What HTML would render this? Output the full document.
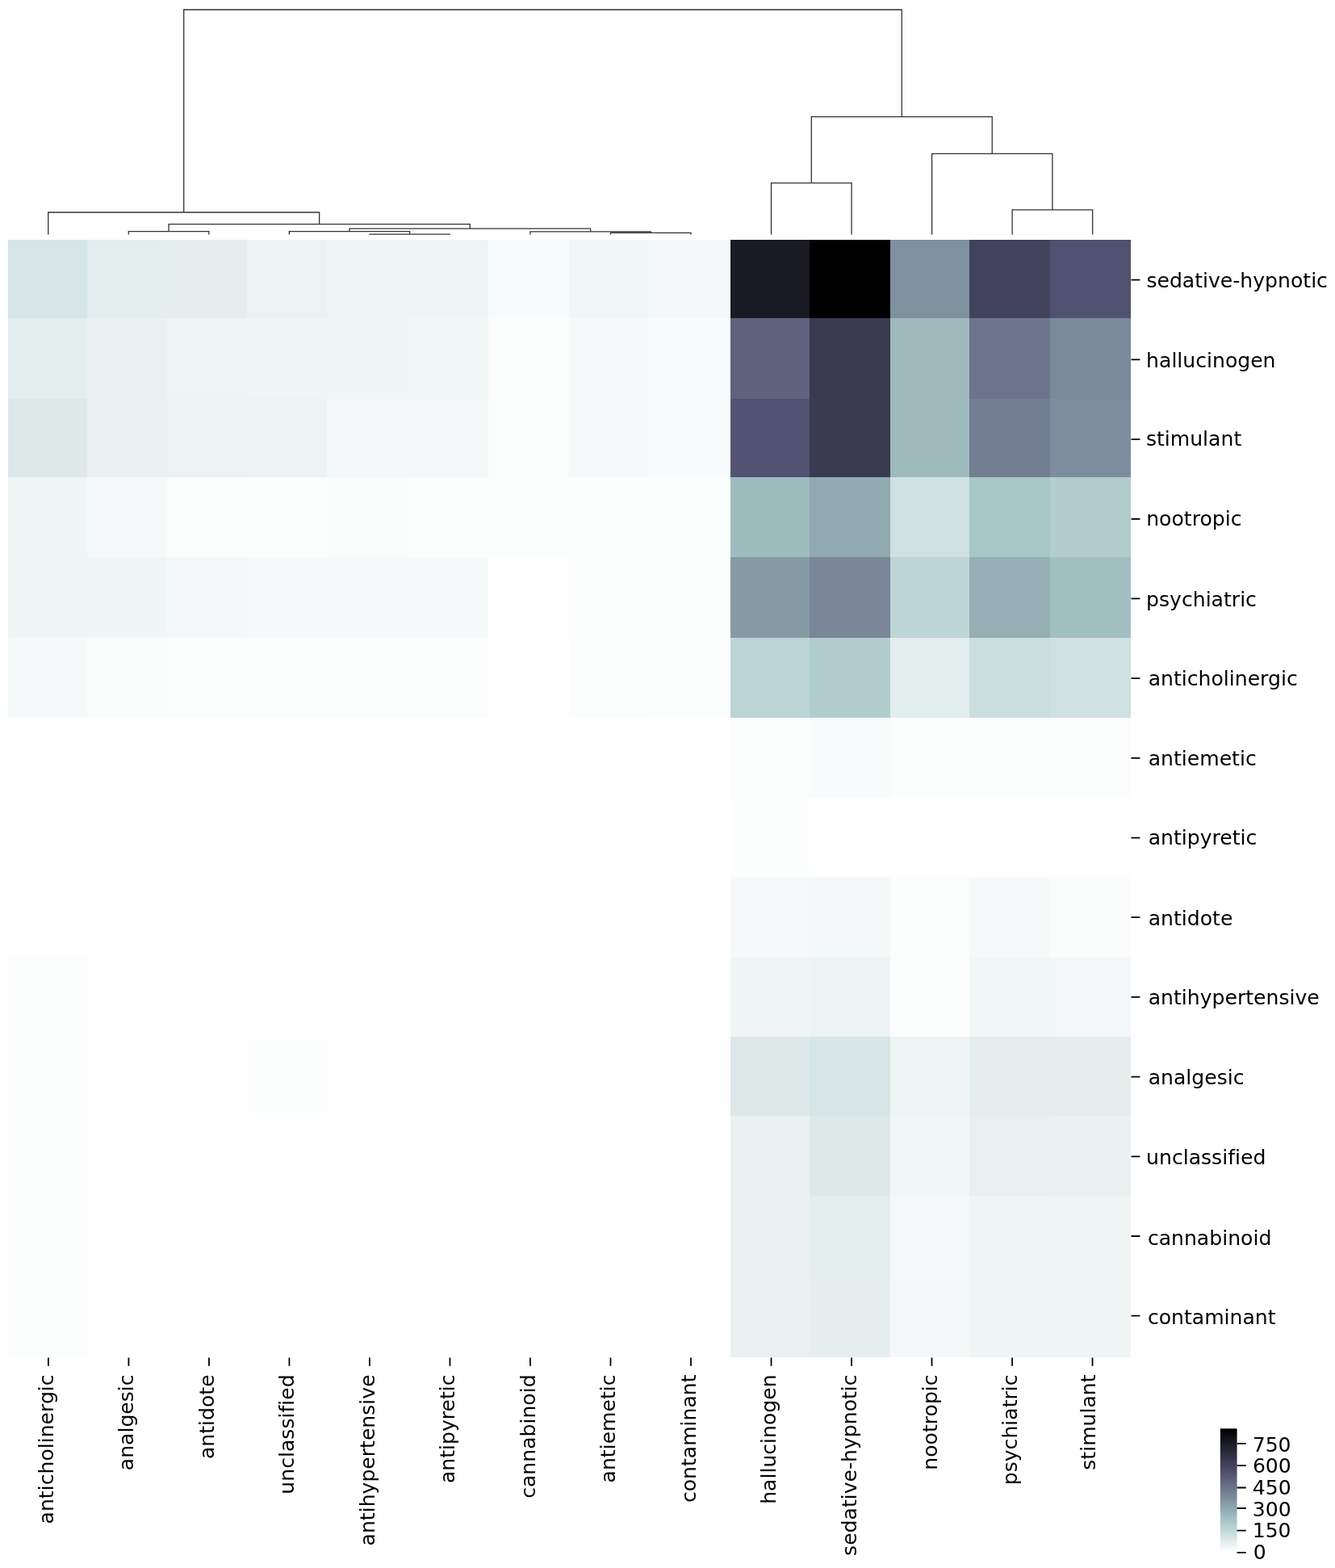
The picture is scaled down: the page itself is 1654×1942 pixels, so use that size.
<!DOCTYPE html>
<html><head><meta charset="utf-8"><title>clustermap</title>
<style>html,body{margin:0;padding:0;background:#fff;}body{width:1654px;height:1942px;overflow:hidden;}svg{display:block;}text{font-family:"DejaVu Sans","Liberation Sans",sans-serif;font-size:25.1px;fill:#000;font-variant-ligatures:none;font-feature-settings:"liga" 0,"clig" 0;}</style></head><body>
<svg width="1654" height="1942" viewBox="0 0 1654 1942">
<rect x="0" y="0" width="1654" height="1942" fill="#fff"/>
<g shape-rendering="crispEdges">
<rect x="10.20" y="297.30" width="98.80" height="97.60" fill="#d6e5e5"/>
<rect x="108.40" y="297.30" width="98.80" height="97.60" fill="#e2eded"/>
<rect x="206.60" y="297.30" width="100.00" height="97.60" fill="#e5eeee"/>
<rect x="306.00" y="297.30" width="99.90" height="97.60" fill="#eaf2f2"/>
<rect x="405.30" y="297.30" width="101.30" height="97.60" fill="#eff5f4"/>
<rect x="506.00" y="297.30" width="99.60" height="97.60" fill="#eff5f4"/>
<rect x="605.00" y="297.30" width="100.10" height="97.60" fill="#f8fbfb"/>
<rect x="704.50" y="297.30" width="100.10" height="97.60" fill="#f1f6f6"/>
<rect x="804.00" y="297.30" width="101.30" height="97.60" fill="#f4f8f8"/>
<rect x="904.70" y="297.30" width="98.60" height="97.60" fill="#1a1a25"/>
<rect x="1002.70" y="297.30" width="100.50" height="97.60" fill="#000000"/>
<rect x="1102.60" y="297.30" width="99.40" height="97.60" fill="#7f909f"/>
<rect x="1201.40" y="297.30" width="100.60" height="97.60" fill="#42425d"/>
<rect x="1301.40" y="297.30" width="99.60" height="97.60" fill="#505070"/>
<rect x="10.20" y="394.30" width="98.80" height="99.80" fill="#e2eded"/>
<rect x="108.40" y="394.30" width="98.80" height="99.80" fill="#e9f1f1"/>
<rect x="206.60" y="394.30" width="100.00" height="99.80" fill="#eff5f4"/>
<rect x="306.00" y="394.30" width="99.90" height="99.80" fill="#f0f5f5"/>
<rect x="405.30" y="394.30" width="101.30" height="99.80" fill="#f0f5f5"/>
<rect x="506.00" y="394.30" width="99.60" height="99.80" fill="#f1f6f6"/>
<rect x="605.00" y="394.30" width="100.10" height="99.80" fill="#fbfcfc"/>
<rect x="704.50" y="394.30" width="100.10" height="99.80" fill="#f5f9f9"/>
<rect x="804.00" y="394.30" width="101.30" height="99.80" fill="#f8fbfb"/>
<rect x="904.70" y="394.30" width="98.60" height="99.80" fill="#5e627d"/>
<rect x="1002.70" y="394.30" width="100.50" height="99.80" fill="#3a3a50"/>
<rect x="1102.60" y="394.30" width="99.40" height="99.80" fill="#9db9bc"/>
<rect x="1201.40" y="394.30" width="100.60" height="99.80" fill="#6b748b"/>
<rect x="1301.40" y="394.30" width="99.60" height="99.80" fill="#7a8a9a"/>
<rect x="10.20" y="493.50" width="98.80" height="98.00" fill="#dde9e9"/>
<rect x="108.40" y="493.50" width="98.80" height="98.00" fill="#e9f1f1"/>
<rect x="206.60" y="493.50" width="100.00" height="98.00" fill="#eaf2f2"/>
<rect x="306.00" y="493.50" width="99.90" height="98.00" fill="#ecf3f3"/>
<rect x="405.30" y="493.50" width="101.30" height="98.00" fill="#f4f8f8"/>
<rect x="506.00" y="493.50" width="99.60" height="98.00" fill="#f4f8f8"/>
<rect x="605.00" y="493.50" width="100.10" height="98.00" fill="#fbfcfc"/>
<rect x="704.50" y="493.50" width="100.10" height="98.00" fill="#f5f9f9"/>
<rect x="804.00" y="493.50" width="101.30" height="98.00" fill="#f8fbfb"/>
<rect x="904.70" y="493.50" width="98.60" height="98.00" fill="#525372"/>
<rect x="1002.70" y="493.50" width="100.50" height="98.00" fill="#3a3a50"/>
<rect x="1102.60" y="493.50" width="99.40" height="98.00" fill="#9db9bc"/>
<rect x="1201.40" y="493.50" width="100.60" height="98.00" fill="#727e92"/>
<rect x="1301.40" y="493.50" width="99.60" height="98.00" fill="#7d8d9d"/>
<rect x="10.20" y="590.90" width="98.80" height="99.70" fill="#f0f5f5"/>
<rect x="108.40" y="590.90" width="98.80" height="99.70" fill="#f5f9f9"/>
<rect x="206.60" y="590.90" width="100.00" height="99.70" fill="#fbfcfc"/>
<rect x="306.00" y="590.90" width="99.90" height="99.70" fill="#fbfcfc"/>
<rect x="405.30" y="590.90" width="101.30" height="99.70" fill="#fafcfb"/>
<rect x="506.00" y="590.90" width="99.60" height="99.70" fill="#fbfcfc"/>
<rect x="605.00" y="590.90" width="100.10" height="99.70" fill="#fbfcfc"/>
<rect x="704.50" y="590.90" width="100.10" height="99.70" fill="#fcfdfd"/>
<rect x="804.00" y="590.90" width="101.30" height="99.70" fill="#fcfdfd"/>
<rect x="904.70" y="590.90" width="98.60" height="99.70" fill="#9ebbbe"/>
<rect x="1002.70" y="590.90" width="100.50" height="99.70" fill="#91a9b1"/>
<rect x="1102.60" y="590.90" width="99.40" height="99.70" fill="#cfe0e0"/>
<rect x="1201.40" y="590.90" width="100.60" height="99.70" fill="#a7c7c7"/>
<rect x="1301.40" y="590.90" width="99.60" height="99.70" fill="#b1cdcd"/>
<rect x="10.20" y="690.00" width="98.80" height="100.60" fill="#eff5f4"/>
<rect x="108.40" y="690.00" width="98.80" height="100.60" fill="#f0f5f5"/>
<rect x="206.60" y="690.00" width="100.00" height="100.60" fill="#f4f8f8"/>
<rect x="306.00" y="690.00" width="99.90" height="100.60" fill="#f5f9f9"/>
<rect x="405.30" y="690.00" width="101.30" height="100.60" fill="#f5f9f9"/>
<rect x="506.00" y="690.00" width="99.60" height="100.60" fill="#f5f9f9"/>
<rect x="605.00" y="690.00" width="100.10" height="100.60" fill="#fefefe"/>
<rect x="704.50" y="690.00" width="100.10" height="100.60" fill="#fbfcfc"/>
<rect x="804.00" y="690.00" width="101.30" height="100.60" fill="#fcfdfd"/>
<rect x="904.70" y="690.00" width="98.60" height="100.60" fill="#869aa6"/>
<rect x="1002.70" y="690.00" width="100.50" height="100.60" fill="#798799"/>
<rect x="1102.60" y="690.00" width="99.40" height="100.60" fill="#bdd5d5"/>
<rect x="1201.40" y="690.00" width="100.60" height="100.60" fill="#96afb5"/>
<rect x="1301.40" y="690.00" width="99.60" height="100.60" fill="#a1bfc1"/>
<rect x="10.20" y="790.00" width="98.80" height="99.10" fill="#f5f9f9"/>
<rect x="108.40" y="790.00" width="98.80" height="99.10" fill="#fafcfb"/>
<rect x="206.60" y="790.00" width="100.00" height="99.10" fill="#fbfcfc"/>
<rect x="306.00" y="790.00" width="99.90" height="99.10" fill="#fbfcfc"/>
<rect x="405.30" y="790.00" width="101.30" height="99.10" fill="#fbfcfc"/>
<rect x="506.00" y="790.00" width="99.60" height="99.10" fill="#fbfcfc"/>
<rect x="605.00" y="790.00" width="100.10" height="99.10" fill="#ffffff"/>
<rect x="704.50" y="790.00" width="100.10" height="99.10" fill="#fbfcfc"/>
<rect x="804.00" y="790.00" width="101.30" height="99.10" fill="#fcfdfd"/>
<rect x="904.70" y="790.00" width="98.60" height="99.10" fill="#bdd5d5"/>
<rect x="1002.70" y="790.00" width="100.50" height="99.10" fill="#b1cdcd"/>
<rect x="1102.60" y="790.00" width="99.40" height="99.10" fill="#e2eded"/>
<rect x="1201.40" y="790.00" width="100.60" height="99.10" fill="#cbdede"/>
<rect x="1301.40" y="790.00" width="99.60" height="99.10" fill="#cfe0e0"/>
<rect x="10.20" y="888.50" width="98.80" height="99.70" fill="#ffffff"/>
<rect x="108.40" y="888.50" width="98.80" height="99.70" fill="#ffffff"/>
<rect x="206.60" y="888.50" width="100.00" height="99.70" fill="#ffffff"/>
<rect x="306.00" y="888.50" width="99.90" height="99.70" fill="#ffffff"/>
<rect x="405.30" y="888.50" width="101.30" height="99.70" fill="#ffffff"/>
<rect x="506.00" y="888.50" width="99.60" height="99.70" fill="#ffffff"/>
<rect x="605.00" y="888.50" width="100.10" height="99.70" fill="#ffffff"/>
<rect x="704.50" y="888.50" width="100.10" height="99.70" fill="#ffffff"/>
<rect x="804.00" y="888.50" width="101.30" height="99.70" fill="#ffffff"/>
<rect x="904.70" y="888.50" width="98.60" height="99.70" fill="#fbfcfc"/>
<rect x="1002.70" y="888.50" width="100.50" height="99.70" fill="#f8fbfb"/>
<rect x="1102.60" y="888.50" width="99.40" height="99.70" fill="#fbfcfc"/>
<rect x="1201.40" y="888.50" width="100.60" height="99.70" fill="#fbfcfc"/>
<rect x="1301.40" y="888.50" width="99.60" height="99.70" fill="#fbfcfc"/>
<rect x="10.20" y="987.60" width="98.80" height="99.00" fill="#ffffff"/>
<rect x="108.40" y="987.60" width="98.80" height="99.00" fill="#ffffff"/>
<rect x="206.60" y="987.60" width="100.00" height="99.00" fill="#ffffff"/>
<rect x="306.00" y="987.60" width="99.90" height="99.00" fill="#ffffff"/>
<rect x="405.30" y="987.60" width="101.30" height="99.00" fill="#ffffff"/>
<rect x="506.00" y="987.60" width="99.60" height="99.00" fill="#ffffff"/>
<rect x="605.00" y="987.60" width="100.10" height="99.00" fill="#ffffff"/>
<rect x="704.50" y="987.60" width="100.10" height="99.00" fill="#ffffff"/>
<rect x="804.00" y="987.60" width="101.30" height="99.00" fill="#ffffff"/>
<rect x="904.70" y="987.60" width="98.60" height="99.00" fill="#fcfdfd"/>
<rect x="1002.70" y="987.60" width="100.50" height="99.00" fill="#fefefe"/>
<rect x="1102.60" y="987.60" width="99.40" height="99.00" fill="#fefefe"/>
<rect x="1201.40" y="987.60" width="100.60" height="99.00" fill="#fefefe"/>
<rect x="1301.40" y="987.60" width="99.60" height="99.00" fill="#fefefe"/>
<rect x="10.20" y="1086.00" width="98.80" height="100.60" fill="#ffffff"/>
<rect x="108.40" y="1086.00" width="98.80" height="100.60" fill="#ffffff"/>
<rect x="206.60" y="1086.00" width="100.00" height="100.60" fill="#ffffff"/>
<rect x="306.00" y="1086.00" width="99.90" height="100.60" fill="#ffffff"/>
<rect x="405.30" y="1086.00" width="101.30" height="100.60" fill="#ffffff"/>
<rect x="506.00" y="1086.00" width="99.60" height="100.60" fill="#ffffff"/>
<rect x="605.00" y="1086.00" width="100.10" height="100.60" fill="#ffffff"/>
<rect x="704.50" y="1086.00" width="100.10" height="100.60" fill="#ffffff"/>
<rect x="804.00" y="1086.00" width="101.30" height="100.60" fill="#ffffff"/>
<rect x="904.70" y="1086.00" width="98.60" height="100.60" fill="#f5f9f9"/>
<rect x="1002.70" y="1086.00" width="100.50" height="100.60" fill="#f4f8f8"/>
<rect x="1102.60" y="1086.00" width="99.40" height="100.60" fill="#fbfcfc"/>
<rect x="1201.40" y="1086.00" width="100.60" height="100.60" fill="#f5f9f9"/>
<rect x="1301.40" y="1086.00" width="99.60" height="100.60" fill="#fafcfb"/>
<rect x="10.20" y="1186.00" width="98.80" height="99.00" fill="#fcfdfd"/>
<rect x="108.40" y="1186.00" width="98.80" height="99.00" fill="#fefefe"/>
<rect x="206.60" y="1186.00" width="100.00" height="99.00" fill="#fefefe"/>
<rect x="306.00" y="1186.00" width="99.90" height="99.00" fill="#fefefe"/>
<rect x="405.30" y="1186.00" width="101.30" height="99.00" fill="#ffffff"/>
<rect x="506.00" y="1186.00" width="99.60" height="99.00" fill="#ffffff"/>
<rect x="605.00" y="1186.00" width="100.10" height="99.00" fill="#ffffff"/>
<rect x="704.50" y="1186.00" width="100.10" height="99.00" fill="#ffffff"/>
<rect x="804.00" y="1186.00" width="101.30" height="99.00" fill="#ffffff"/>
<rect x="904.70" y="1186.00" width="98.60" height="99.00" fill="#eff5f4"/>
<rect x="1002.70" y="1186.00" width="100.50" height="99.00" fill="#ecf3f3"/>
<rect x="1102.60" y="1186.00" width="99.40" height="99.00" fill="#fbfcfc"/>
<rect x="1201.40" y="1186.00" width="100.60" height="99.00" fill="#f1f6f6"/>
<rect x="1301.40" y="1186.00" width="99.60" height="99.00" fill="#f3f7f7"/>
<rect x="10.20" y="1284.40" width="98.80" height="98.40" fill="#fbfcfc"/>
<rect x="108.40" y="1284.40" width="98.80" height="98.40" fill="#fefefe"/>
<rect x="206.60" y="1284.40" width="100.00" height="98.40" fill="#fefefe"/>
<rect x="306.00" y="1284.40" width="99.90" height="98.40" fill="#fcfdfd"/>
<rect x="405.30" y="1284.40" width="101.30" height="98.40" fill="#fefefe"/>
<rect x="506.00" y="1284.40" width="99.60" height="98.40" fill="#fefefe"/>
<rect x="605.00" y="1284.40" width="100.10" height="98.40" fill="#fefefe"/>
<rect x="704.50" y="1284.40" width="100.10" height="98.40" fill="#fefefe"/>
<rect x="804.00" y="1284.40" width="101.30" height="98.40" fill="#fefefe"/>
<rect x="904.70" y="1284.40" width="98.60" height="98.40" fill="#dde9e9"/>
<rect x="1002.70" y="1284.40" width="100.50" height="98.40" fill="#d6e5e5"/>
<rect x="1102.60" y="1284.40" width="99.40" height="98.40" fill="#eff5f4"/>
<rect x="1201.40" y="1284.40" width="100.60" height="98.40" fill="#e4eeed"/>
<rect x="1301.40" y="1284.40" width="99.60" height="98.40" fill="#e4eeed"/>
<rect x="10.20" y="1382.20" width="98.80" height="99.70" fill="#fcfdfd"/>
<rect x="108.40" y="1382.20" width="98.80" height="99.70" fill="#fefefe"/>
<rect x="206.60" y="1382.20" width="100.00" height="99.70" fill="#fefefe"/>
<rect x="306.00" y="1382.20" width="99.90" height="99.70" fill="#fefefe"/>
<rect x="405.30" y="1382.20" width="101.30" height="99.70" fill="#ffffff"/>
<rect x="506.00" y="1382.20" width="99.60" height="99.70" fill="#ffffff"/>
<rect x="605.00" y="1382.20" width="100.10" height="99.70" fill="#ffffff"/>
<rect x="704.50" y="1382.20" width="100.10" height="99.70" fill="#ffffff"/>
<rect x="804.00" y="1382.20" width="101.30" height="99.70" fill="#ffffff"/>
<rect x="904.70" y="1382.20" width="98.60" height="99.70" fill="#e8f0f0"/>
<rect x="1002.70" y="1382.20" width="100.50" height="99.70" fill="#dde9e9"/>
<rect x="1102.60" y="1382.20" width="99.40" height="99.70" fill="#f1f6f6"/>
<rect x="1201.40" y="1382.20" width="100.60" height="99.70" fill="#e8f0f0"/>
<rect x="1301.40" y="1382.20" width="99.60" height="99.70" fill="#e9f1f1"/>
<rect x="10.20" y="1481.30" width="98.80" height="100.70" fill="#fcfdfd"/>
<rect x="108.40" y="1481.30" width="98.80" height="100.70" fill="#fefefe"/>
<rect x="206.60" y="1481.30" width="100.00" height="100.70" fill="#fefefe"/>
<rect x="306.00" y="1481.30" width="99.90" height="100.70" fill="#fefefe"/>
<rect x="405.30" y="1481.30" width="101.30" height="100.70" fill="#ffffff"/>
<rect x="506.00" y="1481.30" width="99.60" height="100.70" fill="#ffffff"/>
<rect x="605.00" y="1481.30" width="100.10" height="100.70" fill="#ffffff"/>
<rect x="704.50" y="1481.30" width="100.10" height="100.70" fill="#ffffff"/>
<rect x="804.00" y="1481.30" width="101.30" height="100.70" fill="#ffffff"/>
<rect x="904.70" y="1481.30" width="98.60" height="100.70" fill="#e8f0f0"/>
<rect x="1002.70" y="1481.30" width="100.50" height="100.70" fill="#e2eded"/>
<rect x="1102.60" y="1481.30" width="99.40" height="100.70" fill="#f5f9f9"/>
<rect x="1201.40" y="1481.30" width="100.60" height="100.70" fill="#eff5f4"/>
<rect x="1301.40" y="1481.30" width="99.60" height="100.70" fill="#eff5f4"/>
<rect x="10.20" y="1581.40" width="98.80" height="99.10" fill="#fcfdfd"/>
<rect x="108.40" y="1581.40" width="98.80" height="99.10" fill="#fefefe"/>
<rect x="206.60" y="1581.40" width="100.00" height="99.10" fill="#fefefe"/>
<rect x="306.00" y="1581.40" width="99.90" height="99.10" fill="#fefefe"/>
<rect x="405.30" y="1581.40" width="101.30" height="99.10" fill="#ffffff"/>
<rect x="506.00" y="1581.40" width="99.60" height="99.10" fill="#ffffff"/>
<rect x="605.00" y="1581.40" width="100.10" height="99.10" fill="#ffffff"/>
<rect x="704.50" y="1581.40" width="100.10" height="99.10" fill="#ffffff"/>
<rect x="804.00" y="1581.40" width="101.30" height="99.10" fill="#ffffff"/>
<rect x="904.70" y="1581.40" width="98.60" height="99.10" fill="#e8f0f0"/>
<rect x="1002.70" y="1581.40" width="100.50" height="99.10" fill="#e5eeee"/>
<rect x="1102.60" y="1581.40" width="99.40" height="99.10" fill="#f4f8f8"/>
<rect x="1201.40" y="1581.40" width="100.60" height="99.10" fill="#eff5f4"/>
<rect x="1301.40" y="1581.40" width="99.60" height="99.10" fill="#eff5f4"/>
</g>
<path d="M457.87,290.60V290.20H557.40V290.60 M358.34,290.60V286.70H507.63V290.20 M756.46,290.60V288.30H855.99V290.60 M656.93,290.60V286.90H806.23V288.30 M432.99,286.70V283.20H731.58V286.90 M159.28,290.60V286.70H258.81V290.60 M209.05,286.70V277.60H582.28V283.20 M59.75,290.60V263.00H395.66V277.60 M955.52,290.60V226.60H1055.05V290.60 M1254.11,290.60V259.80H1353.64V290.60 M1154.58,290.60V190.40H1303.88V259.80 M1005.28,226.60V144.70H1229.23V190.40 M227.71,263.00V12.00H1117.26V144.70" fill="none" stroke="#333" stroke-width="1.3" stroke-linejoin="miter" stroke-linecap="butt"/>
<path d="M59.90,1681.40V1691.80 M159.41,1681.40V1691.80 M258.92,1681.40V1691.80 M358.43,1681.40V1691.80 M457.94,1681.40V1691.80 M557.45,1681.40V1691.80 M656.96,1681.40V1691.80 M756.47,1681.40V1691.80 M855.98,1681.40V1691.80 M955.49,1681.40V1691.80 M1055.00,1681.40V1691.80 M1154.51,1681.40V1691.80 M1254.02,1681.40V1691.80 M1353.53,1681.40V1691.80 M1401.50,346.70H1412.40 M1401.50,445.39H1412.40 M1401.50,544.08H1412.40 M1401.50,642.77H1412.40 M1401.50,741.46H1412.40 M1401.50,840.15H1412.40 M1401.50,938.84H1412.40 M1401.50,1037.53H1412.40 M1401.50,1136.22H1412.40 M1401.50,1234.91H1412.40 M1401.50,1333.60H1412.40 M1401.50,1432.29H1412.40 M1401.50,1530.98H1412.40 M1401.50,1629.67H1412.40" stroke="#000" stroke-width="1.8" fill="none"/>
<text transform="translate(65.90,1702.40) rotate(-90)" text-anchor="end">anticholinergic</text>
<text transform="translate(165.41,1702.40) rotate(-90)" text-anchor="end">analgesic</text>
<text transform="translate(264.92,1702.40) rotate(-90)" text-anchor="end">antidote</text>
<text transform="translate(364.43,1702.40) rotate(-90)" text-anchor="end">unclassified</text>
<text transform="translate(463.94,1702.40) rotate(-90)" text-anchor="end">antihypertensive</text>
<text transform="translate(563.45,1702.40) rotate(-90)" text-anchor="end">antipyretic</text>
<text transform="translate(662.96,1702.40) rotate(-90)" text-anchor="end">cannabinoid</text>
<text transform="translate(762.47,1702.40) rotate(-90)" text-anchor="end">antiemetic</text>
<text transform="translate(861.98,1702.40) rotate(-90)" text-anchor="end">contaminant</text>
<text transform="translate(961.49,1702.40) rotate(-90)" text-anchor="end">hallucinogen</text>
<text transform="translate(1061.00,1702.40) rotate(-90)" text-anchor="end">sedative-hypnotic</text>
<text transform="translate(1160.51,1702.40) rotate(-90)" text-anchor="end">nootropic</text>
<text transform="translate(1260.02,1702.40) rotate(-90)" text-anchor="end">psychiatric</text>
<text transform="translate(1357.33,1702.40) rotate(-90)" text-anchor="end">stimulant</text>
<text x="1420.40" y="355.80">sedative-hypnotic</text>
<text x="1420.10" y="455.00">hallucinogen</text>
<text x="1419.90" y="552.40">stimulant</text>
<text x="1420.20" y="650.90">nootropic</text>
<text x="1420.10" y="751.30">psychiatric</text>
<text x="1422.70" y="849.40">anticholinergic</text>
<text x="1422.70" y="948.00">antiemetic</text>
<text x="1422.70" y="1046.40">antipyretic</text>
<text x="1422.70" y="1146.40">antidote</text>
<text x="1422.70" y="1244.40">antihypertensive</text>
<text x="1422.70" y="1343.20">analgesic</text>
<text x="1420.10" y="1442.00">unclassified</text>
<text x="1421.90" y="1542.00">cannabinoid</text>
<text x="1421.90" y="1640.10">contaminant</text>
<defs><linearGradient id="cb" x1="0" y1="1" x2="0" y2="0"><stop offset="0.000" stop-color="#ffffff"/><stop offset="0.050" stop-color="#eff5f4"/><stop offset="0.100" stop-color="#dde9e9"/><stop offset="0.150" stop-color="#cbdede"/><stop offset="0.200" stop-color="#b9d2d2"/><stop offset="0.250" stop-color="#a7c7c7"/><stop offset="0.300" stop-color="#9db9bc"/><stop offset="0.350" stop-color="#91a9b1"/><stop offset="0.400" stop-color="#869aa6"/><stop offset="0.450" stop-color="#7a8a9a"/><stop offset="0.500" stop-color="#6f7a8f"/><stop offset="0.550" stop-color="#656c84"/><stop offset="0.600" stop-color="#595c79"/><stop offset="0.650" stop-color="#4e4e6c"/><stop offset="0.700" stop-color="#42425d"/><stop offset="0.750" stop-color="#37374d"/><stop offset="0.800" stop-color="#2d2d3e"/><stop offset="0.850" stop-color="#21212e"/><stop offset="0.900" stop-color="#16161e"/><stop offset="0.950" stop-color="#0a0a0f"/><stop offset="1.000" stop-color="#000000"/></linearGradient></defs>
<rect x="1511.80" y="1769.30" width="20.80" height="153.40" fill="url(#cb)"/>
<text x="1552.80" y="1931.00">0</text>
<text x="1551.70" y="1903.70">150</text>
<text x="1551.80" y="1878.20">300</text>
<text x="1551.80" y="1850.70">450</text>
<text x="1551.90" y="1823.70">600</text>
<text x="1551.70" y="1798.20">750</text>
<path d="M1532.60,1922.90H1543.80 M1532.60,1895.60H1543.80 M1532.60,1868.00H1543.80 M1532.60,1842.50H1543.80 M1532.60,1815.20H1543.80 M1532.60,1787.90H1543.80" stroke="#000" stroke-width="1.8" fill="none"/>
</svg>
</body></html>
